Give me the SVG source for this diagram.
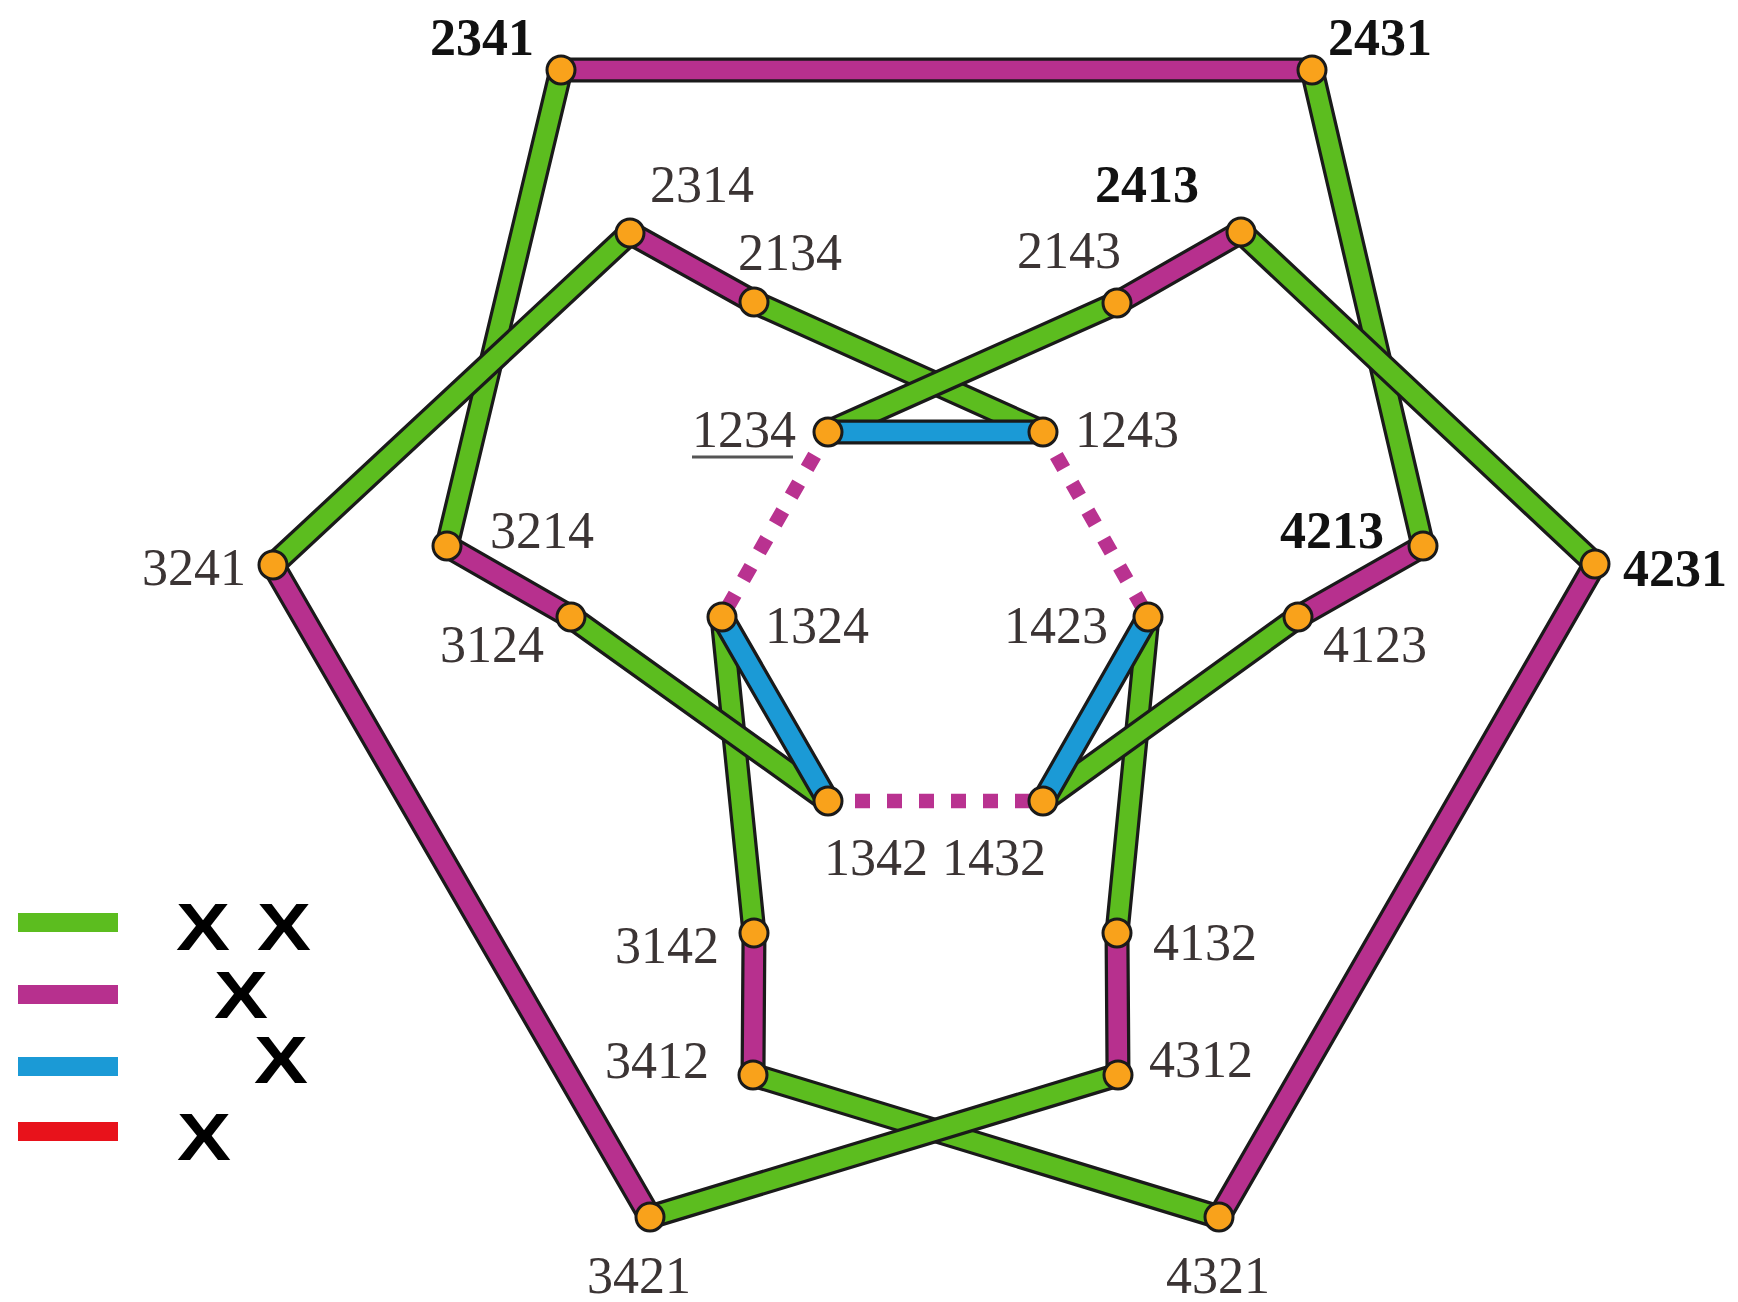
<svg xmlns="http://www.w3.org/2000/svg" width="1738" height="1302" viewBox="0 0 1738 1302">
<style>
.o{stroke:#1a1a1a;stroke-width:25;stroke-linecap:round;fill:none}
.g{stroke:#5cbd1f;stroke-width:18.5;stroke-linecap:round;fill:none}
.m{stroke:#b7308e;stroke-width:18.5;stroke-linecap:round;fill:none}
.b{stroke:#1b9ad6;stroke-width:18.5;stroke-linecap:round;fill:none}
.d{stroke:#b93290;stroke-width:14.5;stroke-dasharray:15 17;stroke-dashoffset:5;fill:none}
.n{fill:#f9a21b;stroke:#1a1a1a;stroke-width:3}
.l{font-family:"Liberation Serif","Times New Roman",serif;font-size:52px;fill:#3b3434}
.k{font-family:"Liberation Serif","Times New Roman",serif;font-size:52px;font-weight:bold;fill:#111}
.x{font-family:"Liberation Sans",Arial,sans-serif;font-size:67px;font-weight:bold;fill:#000}
</style>
<rect width="1738" height="1302" fill="#fff"/>
<g id="connectors">
<line class="o" x1="561" y1="70" x2="1312" y2="70"/><line class="m" x1="561" y1="70" x2="1312" y2="70"/>
<line class="o" x1="273" y1="565" x2="650" y2="1217"/><line class="m" x1="273" y1="565" x2="650" y2="1217"/>
<line class="o" x1="1595" y1="564" x2="1219" y2="1217"/><line class="m" x1="1595" y1="564" x2="1219" y2="1217"/>
<line class="o" x1="630" y1="233" x2="754" y2="302"/><line class="m" x1="630" y1="233" x2="754" y2="302"/>
<line class="o" x1="1241" y1="232" x2="1117" y2="303"/><line class="m" x1="1241" y1="232" x2="1117" y2="303"/>
<line class="o" x1="447" y1="546" x2="571" y2="617"/><line class="m" x1="447" y1="546" x2="571" y2="617"/>
<line class="o" x1="1423" y1="546" x2="1298" y2="617"/><line class="m" x1="1423" y1="546" x2="1298" y2="617"/>
<line class="o" x1="754" y1="933" x2="753" y2="1075"/><line class="m" x1="754" y1="933" x2="753" y2="1075"/>
<line class="o" x1="1117" y1="933" x2="1118" y2="1075"/><line class="m" x1="1117" y1="933" x2="1118" y2="1075"/>
<line class="o" x1="561" y1="70" x2="447" y2="546"/><line class="g" x1="561" y1="70" x2="447" y2="546"/>
<line class="o" x1="1312" y1="70" x2="1423" y2="546"/><line class="g" x1="1312" y1="70" x2="1423" y2="546"/>
<line class="o" x1="630" y1="233" x2="273" y2="565"/><line class="g" x1="630" y1="233" x2="273" y2="565"/>
<line class="o" x1="1241" y1="232" x2="1595" y2="564"/><line class="g" x1="1241" y1="232" x2="1595" y2="564"/>
<line class="o" x1="754" y1="302" x2="1043" y2="432"/><line class="g" x1="754" y1="302" x2="1043" y2="432"/>
<line class="o" x1="1117" y1="303" x2="828" y2="432"/><line class="g" x1="1117" y1="303" x2="828" y2="432"/>
<line class="o" x1="722" y1="617" x2="754" y2="933"/><line class="g" x1="722" y1="617" x2="754" y2="933"/>
<line class="o" x1="1148" y1="617" x2="1117" y2="933"/><line class="g" x1="1148" y1="617" x2="1117" y2="933"/>
<line class="o" x1="571" y1="617" x2="828" y2="801"/><line class="g" x1="571" y1="617" x2="828" y2="801"/>
<line class="o" x1="1298" y1="617" x2="1043" y2="801"/><line class="g" x1="1298" y1="617" x2="1043" y2="801"/>
<line class="o" x1="753" y1="1075" x2="1219" y2="1217"/><line class="g" x1="753" y1="1075" x2="1219" y2="1217"/>
<line class="o" x1="1118" y1="1075" x2="650" y2="1217"/><line class="g" x1="1118" y1="1075" x2="650" y2="1217"/>
<line class="o" x1="828" y1="432" x2="1043" y2="432"/><line class="b" x1="828" y1="432" x2="1043" y2="432"/>
<line class="o" x1="722" y1="617" x2="828" y2="801"/><line class="b" x1="722" y1="617" x2="828" y2="801"/>
<line class="o" x1="1148" y1="617" x2="1043" y2="801"/><line class="b" x1="1148" y1="617" x2="1043" y2="801"/>
<line class="d" x1="828" y1="432" x2="722" y2="617"/>
<line class="d" x1="1043" y1="432" x2="1148" y2="617"/>
<line class="d" x1="828" y1="801" x2="1043" y2="801"/>
</g>
<g id="n2341"><circle class="n" cx="561" cy="70" r="14"/><text class="k" x="430" y="55">2341</text></g>
<g id="n2431"><circle class="n" cx="1312" cy="70" r="14"/><text class="k" x="1328" y="55">2431</text></g>
<g id="n2314"><circle class="n" cx="630" cy="233" r="14"/><text class="l" x="650" y="202">2314</text></g>
<g id="n2413"><circle class="n" cx="1241" cy="232" r="14"/><text class="k" x="1095" y="202">2413</text></g>
<g id="n2134"><circle class="n" cx="754" cy="302" r="14"/><text class="l" x="738" y="270">2134</text></g>
<g id="n2143"><circle class="n" cx="1117" cy="303" r="14"/><text class="l" x="1017" y="268">2143</text></g>
<g id="n1234"><circle class="n" cx="828" cy="432" r="14"/><text class="l" x="692" y="447">1234</text><line x1="692" y1="457" x2="793" y2="457" stroke="#555" stroke-width="3"/></g>
<g id="n1243"><circle class="n" cx="1043" cy="432" r="14"/><text class="l" x="1075" y="447">1243</text></g>
<g id="n3241"><circle class="n" cx="273" cy="565" r="14"/><text class="l" x="142" y="585">3241</text></g>
<g id="n4231"><circle class="n" cx="1595" cy="564" r="14"/><text class="k" x="1623" y="586">4231</text></g>
<g id="n3214"><circle class="n" cx="447" cy="546" r="14"/><text class="l" x="490" y="548">3214</text></g>
<g id="n4213"><circle class="n" cx="1423" cy="546" r="14"/><text class="k" x="1280" y="548">4213</text></g>
<g id="n3124"><circle class="n" cx="571" cy="617" r="14"/><text class="l" x="440" y="662">3124</text></g>
<g id="n4123"><circle class="n" cx="1298" cy="617" r="14"/><text class="l" x="1323" y="662">4123</text></g>
<g id="n1324"><circle class="n" cx="722" cy="617" r="14"/><text class="l" x="765" y="643">1324</text></g>
<g id="n1423"><circle class="n" cx="1148" cy="617" r="14"/><text class="l" x="1004" y="643">1423</text></g>
<g id="n1342"><circle class="n" cx="828" cy="801" r="14"/><text class="l" x="824" y="875">1342</text></g>
<g id="n1432"><circle class="n" cx="1043" cy="801" r="14"/><text class="l" x="942" y="875">1432</text></g>
<g id="n3142"><circle class="n" cx="754" cy="933" r="14"/><text class="l" x="615" y="963">3142</text></g>
<g id="n4132"><circle class="n" cx="1117" cy="933" r="14"/><text class="l" x="1153" y="960">4132</text></g>
<g id="n3412"><circle class="n" cx="753" cy="1075" r="14"/><text class="l" x="605" y="1078">3412</text></g>
<g id="n4312"><circle class="n" cx="1118" cy="1075" r="14"/><text class="l" x="1149" y="1077">4312</text></g>
<g id="n3421"><circle class="n" cx="650" cy="1217" r="14"/><text class="l" x="587" y="1293">3421</text></g>
<g id="n4321"><circle class="n" cx="1219" cy="1217" r="14"/><text class="l" x="1166" y="1293">4321</text></g>
<g id="legend">
<rect x="18" y="913" width="100" height="19" fill="#5cbd1f"/>
<rect x="18" y="985" width="100" height="19" fill="#b7308e"/>
<rect x="18" y="1057" width="100" height="19" fill="#1b9ad6"/>
<rect x="18" y="1122" width="100" height="19" fill="#e8121b"/>
<text class="x" x="176" y="950" textLength="54" lengthAdjust="spacingAndGlyphs">X</text>
<text class="x" x="257" y="950" textLength="54" lengthAdjust="spacingAndGlyphs">X</text>
<text class="x" x="214" y="1018" textLength="54" lengthAdjust="spacingAndGlyphs">X</text>
<text class="x" x="254" y="1083" textLength="54" lengthAdjust="spacingAndGlyphs">X</text>
<text class="x" x="177" y="1160" textLength="54" lengthAdjust="spacingAndGlyphs">X</text>
</g>
</svg>
